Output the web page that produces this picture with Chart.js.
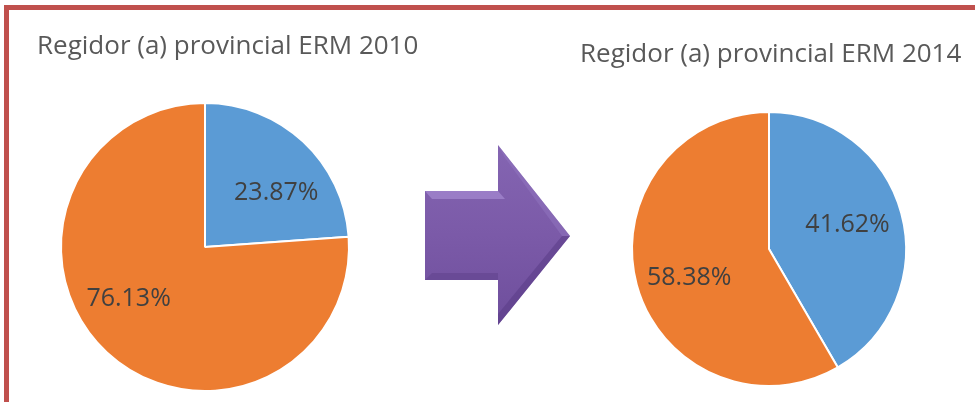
<!DOCTYPE html>
<html>
<head>
<meta charset="utf-8">
<script src="https://cdn.jsdelivr.net/npm/chart.js@4/dist/chart.umd.min.js"></script>
<style>
  html, body { margin: 0; padding: 0; background: #fff; overflow: hidden; }
  body { width: 975px; height: 402px; position: relative; }
  #frame { position: absolute; left: 4px; top: 5px; width: 990px; height: 420px; border: 5px solid #C0504D; box-sizing: border-box; }
  canvas { position: absolute; top: 0; }
  #g1 { left: 0; }
  #g2 { left: 470px; }
  #arrow { position: absolute; left: 0; top: 0; }
</style>
</head>
<body>
<div id="frame"></div>
<svg id="arrow" width="975" height="402">
  <defs>
    <linearGradient id="ag" x1="0" y1="0" x2="0" y2="1">
      <stop offset="0" stop-color="#8465B2"/>
      <stop offset="0.5" stop-color="#7B5AA8"/>
      <stop offset="1" stop-color="#6E4E9C"/>
    </linearGradient>
  </defs>
  <polygon points="425,191 498,191 498,145 570,236 498,325 498,280 425,280" fill="url(#ag)"/>
  <polygon points="425,191 498,191 505,199 432,199" fill="#A58AD2" opacity="0.7"/>
  <polygon points="498,145 570,236 562,236 505,158" fill="#9275C0" opacity="0.5"/>
  <polygon points="570,236 498,325 498,314 562,236" fill="#5C3D88" opacity="0.6"/>
  <polygon points="425,280 498,280 498,273 432,273" fill="#5E3F8A" opacity="0.5"/>
</svg>
<canvas id="g1" width="470" height="402"></canvas>
<canvas id="g2" width="505" height="402"></canvas>
<script>
var labels = ["Sí", "No"];
var values2010 = [23.87, 76.13];
var values2014 = [41.62, 58.38];
var title2010 = "Regidor (a) provincial ERM 2010";
var title2014 = "Regidor (a) provincial ERM 2014";
var colores = ["#5B9BD5", "#ED7D31"];

// etiquetas de porcentaje dentro de cada rebanada
var etiquetas = {
  id: 'etiquetas',
  afterDatasetsDraw: function (chart, args, opts) {
    var ctx = chart.ctx;
    var meta = chart.getDatasetMeta(0);
    var data = chart.data.datasets[0].data;
    ctx.save();
    ctx.font = '25px "Open Sans"';
    ctx.fillStyle = '#404040';
    ctx.textAlign = 'center';
    ctx.textBaseline = 'middle';
    meta.data.forEach(function (arc, i) {
      var p = arc.getProps(['x', 'y', 'startAngle', 'endAngle', 'outerRadius'], true);
      var a = (p.startAngle + p.endAngle) / 2 + (opts.shift[i] || 0) * Math.PI / 180;
      var r = p.outerRadius * (opts.dist[i] || 0.62);
      ctx.fillText(data[i].toFixed(2) + '%', p.x + Math.cos(a) * r, p.y + Math.sin(a) * r);
    });
    ctx.restore();
  }
};

// titulo sin recorte de ancho (el del plugin title se comprime)
var titulo = {
  id: 'titulo',
  afterDraw: function (chart, args, opts) {
    var ctx = chart.ctx;
    ctx.save();
    ctx.font = '26px "Open Sans"';
    ctx.fillStyle = '#595959';
    ctx.textAlign = 'left';
    ctx.textBaseline = 'middle';
    ctx.fillText(opts.text, opts.x, opts.y);
    ctx.restore();
  }
};

function pie(id, values, title, pad, tx, ty, shift, dist) {
  var ctx = document.getElementById(id).getContext('2d');
  return new Chart(ctx, {
    type: 'pie',
    data: {
      labels: labels,
      datasets: [{
        backgroundColor: colores,
        borderColor: '#ffffff',
        borderWidth: 2,
        data: values
      }]
    },
    options: {
      responsive: false,
      animation: false,
      devicePixelRatio: 1,
      layout: { padding: pad },
      plugins: {
        legend: { display: false },
        tooltip: { enabled: false },
        title: { display: false },
        titulo: { text: title, x: tx, y: ty },
        etiquetas: { shift: shift, dist: dist }
      }
    },
    plugins: [etiquetas, titulo]
  });
}

pie('g1', values2010, title2010,
  { left: 37, right: 97, top: 102, bottom: 10 },
  37, 46.6, [10, 13], [0.62, 0.64]);
pie('g2', values2014, title2014,
  { left: 110, right: 17, top: 111, bottom: 15 },
  110, 55, [-2, -5], [0.6, 0.62]);
</script>
</body>
</html>
